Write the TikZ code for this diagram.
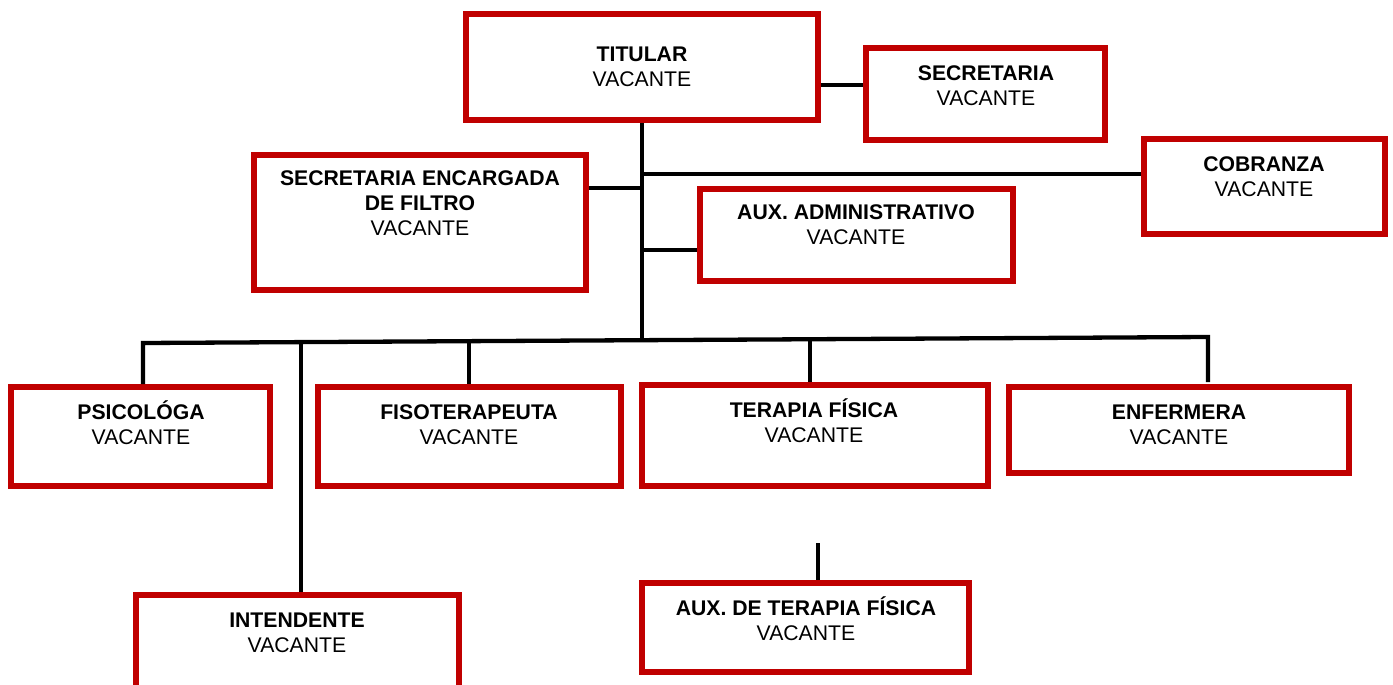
\documentclass[tikz,border=0pt]{standalone}
\usepackage{fontspec}
\setmainfont{Liberation Sans}
\definecolor{boxred}{RGB}{192,0,0}
\newcommand{\orgtab}[1]{\begin{tabular}[t]{@{}c@{}}#1\end{tabular}}
\tikzset{
  box/.style={draw=boxred, line width=6pt, rectangle, inner sep=0pt},
  lbl/.style={anchor=base, inner sep=0pt, font=\fontsize{21.2}{25}\selectfont},
  conn/.style={draw=black, line width=4.3pt},
}
\begin{document}
\begin{tikzpicture}[x=1pt,y=-1pt]
\fill[white] (0,0) rectangle (1393,685);
\useasboundingbox (0,0) rectangle (1393,685);
% boxes
\node[box, minimum width=352pt, minimum height=106pt] (tit) at (642,67) {};
\node[box, minimum width=239pt, minimum height=92pt] (sec) at (985.5,94) {};
\node[box, minimum width=332pt, minimum height=135pt] (sef) at (420,222.5) {};
\node[box, minimum width=241pt, minimum height=95pt] (cob) at (1264.5,186.5) {};
\node[box, minimum width=313pt, minimum height=92pt] (adm) at (856.5,235) {};
\node[box, minimum width=259pt, minimum height=99pt] (psi) at (140.5,436.5) {};
\node[box, minimum width=303pt, minimum height=99pt] (fis) at (469.5,436.5) {};
\node[box, minimum width=346pt, minimum height=101pt] (ter) at (815,435.5) {};
\node[box, minimum width=340pt, minimum height=86pt] (enf) at (1179,430) {};
\node[box, minimum width=323pt, minimum height=115pt] (int) at (297.5,652.5) {};
\node[box, minimum width=327pt, minimum height=89pt] (aux) at (805.5,627.5) {};
% texts
\node[lbl] (titT) at (642,62) {\orgtab{\textbf{TITULAR}\\VACANTE}};
\node[lbl] (secT) at (986,81) {\orgtab{\textbf{SECRETARIA}\\VACANTE}};
\node[lbl] (sefT) at (420,185) {\orgtab{\textbf{SECRETARIA ENCARGADA}\\\textbf{DE FILTRO}\\VACANTE}};
\node[lbl] (cobT) at (1264,171) {\orgtab{\textbf{COBRANZA}\\VACANTE}};
\node[lbl] (admT) at (856,219) {\orgtab{\textbf{AUX. ADMINISTRATIVO}\\VACANTE}};
\node[lbl] (psiT) at (141,419) {\orgtab{\textbf{PSICOLÓGA}\\VACANTE}};
\node[lbl] (fisT) at (469,419) {\orgtab{\textbf{FISOTERAPEUTA}\\VACANTE}};
\node[lbl] (terT) at (814,417) {\orgtab{\textbf{TERAPIA FÍSICA}\\VACANTE}};
\node[lbl] (enfT) at (1179,419) {\orgtab{\textbf{ENFERMERA}\\VACANTE}};
\node[lbl] (intT) at (297,627) {\orgtab{\textbf{INTENDENTE}\\VACANTE}};
\node[lbl] (auxT) at (806,615) {\orgtab{\textbf{AUX. DE TERAPIA FÍSICA}\\VACANTE}};
% junction coordinates
\coordinate (jC) at (642,174);
\coordinate (jS) at (642,188);
\coordinate (jA) at (642,250);
\coordinate (busL) at (143,343);
\coordinate (bI) at (301,342);
\coordinate (bF) at (469,341);
\coordinate (bT) at (642,340);
\coordinate (bR) at (810,339);
\coordinate (busR) at (1208,337);
\coordinate (aT) at (818,543);
% connectors
\draw[conn] ([yshift=-18pt]tit.east) -- ([yshift=-18pt]tit.east -| sec.west);
\draw[conn] (tit.south) -- (bT);
\draw[conn] (jC) -- (jC -| cob.west);
\draw[conn] (jS) -- (jS -| sef.east);
\draw[conn] (jA) -- (jA -| adm.west);
\draw[conn] (busL |- psi.north) -- (busL) -- (busR) -- ([yshift=2pt]busR |- enf.north);
\draw[conn] (bI) -- (bI |- int.north);
\draw[conn] (bF) -- (bF |- fis.north);
\draw[conn] (bR) -- (bR |- ter.north);
\draw[conn] (aT) -- (aT |- aux.north);
\end{tikzpicture}
\end{document}
